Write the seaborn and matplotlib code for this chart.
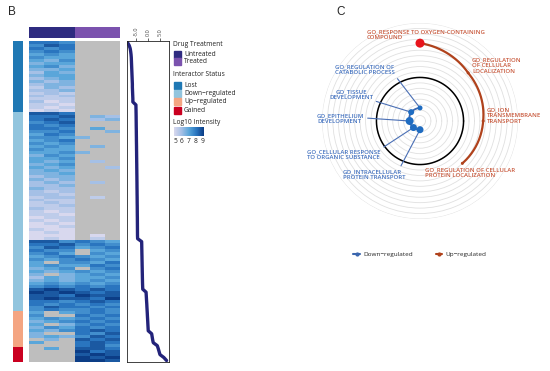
import numpy as np
import pandas as pd
import seaborn as sns
import matplotlib.pyplot as plt
from matplotlib.colors import LinearSegmentedColormap, ListedColormap
from matplotlib.patches import Rectangle
from matplotlib.lines import Line2D

sns.set_style('white')
plt.rcParams['font.family'] = ['Open Sans', 'DejaVu Sans']

# ---- panel B data ----
# heatmap rows, 6 samples (3 untreated, 3 treated); '.' = not detected,
# digit d -> log10 intensity 5 + (d-1)/2
hm_rows = [
    # lost
    '776...', '687...', '767...', '676...', '565...', '655...', '546...', '455...',
    '564...', '445...', '354...', '455...', '345...', '434...', '344...', '243...',
    '334...', '232...', '323...', '222...', '312...', '221...', '212...', '121...',
    # down-regulated
    '887...', '778.43', '787.34', '678...', '767...', '776.5.',
    '667..4', '576...', '6654..', '567...', '656...', '565.4.', '655...', '5564..',
    '465...', '556...', '545.3.', '456...', '545..3', '454...',
    '445...', '344...', '434...', '343.3.', '334...', '433...', '323...', '332...',
    '233.2.', '322...', '232...', '223...', '322...', '212...', '221...', '122...',
    '212...', '121...', '112...', '211...', '121...', '111.1.', '121.2.',
    '886765', '778676', '687567', '766.56', '675.65', '567656', '656765', '5.6657',
    '565576', '456.67', '545656', '4.4565', '354556', '454565', '565656', '676767',
    '898787', '989878', '887988', '898879', '776787', '767676', '687767', '676676',
    # up-regulated
    '5.5676', '6..767', '565676', '456767', '5.4676', '465767', '546787', '4..768',
    '454687', '.4.878', '5..787', '...786',
    # gained
    '.5.887', '...978', '...898', '...989', '...998',
]
status_names = ['Lost', 'Down\u2212regulated', 'Up\u2212regulated', 'Gained']
status_counts = [24, 67, 12, 5]
treat_names = ['Untreated', 'Treated']
treat_cols = [0, 0, 0, 1, 1, 1]

# log fold change per row, same order as heatmap
lfc = [-8.4, -7.7, -7.3, -7.1, -6.95, -6.85, -6.8, -6.75, -6.7, -6.65, -6.6,
       -6.55, -6.5, -6.45, -6.4, -6.4, -6.35, -6.3, -6.25, -6.2, -6.2,
       -4.95, -4.93, -4.9, -4.88, -4.86, -4.85, -4.83, -4.82, -4.8, -4.78,
       -4.77, -4.75, -4.74, -4.72, -4.7, -4.69, -4.67, -4.66, -4.64, -4.63,
       -4.61, -4.6, -4.58, -4.57, -4.55, -4.54, -4.52, -4.51, -4.5, -4.48,
       -4.47, -4.45, -4.44, -4.43, -4.41, -4.4, -4.39, -4.38, -4.36, -4.35,
       -4.34, -4.33, -4.32, -4.31, -4.3, -4.25,
       -2.6, -2.57, -2.55, -2.52, -2.5, -2.47, -2.45, -2.42, -2.4, -2.37,
       -2.35, -2.32, -2.3, -2.27, -2.24, -2.2, -2.15,
       -0.8, -0.72, -0.65, -0.58, -0.5, -0.44, -0.37, -0.3, -0.24, -0.17,
       -0.1, -0.04, 0.03, 0.1,
       1.5, 1.7, 1.9, 2.15,
       3.8, 4.2, 4.55, 4.9,
       6.5, 7.6]

# ---- panel C data ----
down_terms = ['GO_REGULATION OF\nCATABOLIC PROCESS', 'GO_TISSUE\nDEVELOPMENT',
              'GO_EPITHELIUM\nDEVELOPMENT', 'GO_CELLULAR RESPONSE\nTO ORGANIC SUBSTANCE',
              'GO_INTRACELLULAR\nPROTEIN TRANSPORT']
down_score = [-2.8, -2.85, -3.05, -3.15, -3.2]
down_size = [5, 6, 8, 7, 7]
up_terms = ['GO_RESPONSE TO OXYGEN-CONTAINING\nCOMPOUND', 'GO_REGULATION\nOF CELLULAR\nLOCALIZATION',
            'GO_ION\nTRANSMEMBRANE\nTRANSPORT', 'GO_REGULATION OF CELLULAR\nPROTEIN LOCALIZATION']
up_score = [3.15, 2.25, 1.8, 1.5]
up_size = [9, 3, 3, 3]

W, H = 550, 371
fig = plt.figure(figsize=(W / 100, H / 100), dpi=100)


def rect(x0, y0, x1, y1):
    return [x0 / W, 1 - y1 / H, (x1 - x0) / W, (y1 - y0) / H]


def fxy(x, y):
    return (x / W, 1 - y / H)


# heatmap
vals = np.array([[np.nan if c == '.' else 5 + (int(c) - 1) * 0.5 for c in r] for r in hm_rows])
n_rows = len(vals)
blues = LinearSegmentedColormap.from_list('int', ['#d8d8ee', '#a5c0e6', '#5aa6da', '#2a76c0', '#0c3d86'])
ax_hm = fig.add_axes(rect(29, 41, 120, 362))
ax_hm.set_facecolor('#bebebe')
sns.heatmap(pd.DataFrame(vals), ax=ax_hm, cmap=blues, vmin=5, vmax=9, cbar=False,
            xticklabels=False, yticklabels=False)

# row annotation
status_cols = ['#1f78b4', '#92c5de', '#f4a582', '#ca0020']
codes = np.repeat(np.arange(len(status_counts)), status_counts).reshape(-1, 1)
ax_row = fig.add_axes(rect(13, 41, 23, 362))
sns.heatmap(codes, ax=ax_row, cmap=ListedColormap(status_cols), vmin=-0.5, vmax=3.5,
            cbar=False, xticklabels=False, yticklabels=False)

# column annotation
treat_colors = ['#2e2b80', '#7b52ae']
ax_top = fig.add_axes(rect(29, 27, 120, 38))
sns.heatmap([treat_cols], ax=ax_top, cmap=ListedColormap(treat_colors), vmin=-0.5, vmax=1.5,
            cbar=False, xticklabels=False, yticklabels=False)

# fold change line
ax_ln = fig.add_axes(rect(127, 41, 169, 362))
ypos = (np.arange(len(lfc)) + 0.5) / len(lfc) * n_rows
sns.lineplot(x=lfc, y=ypos, ax=ax_ln, estimator=None, sort=False, color='#23237a', lw=2.4)
ax_ln.set_xlim(-8.6, 8.6)
ax_ln.set_ylim(n_rows, 0)
ax_ln.set_yticks([])
ax_ln.xaxis.tick_top()
ax_ln.set_xticks([-5, 0, 5])
ax_ln.set_xticklabels(['-5.0', '0.0', '5.0'], rotation=90, fontsize=4, color='#444444')
ax_ln.tick_params(axis='x', length=2.5, width=0.5, pad=1, top=True, bottom=False)
for s in ax_ln.spines.values():
    s.set_visible(True)
    s.set_linewidth(0.6)
    s.set_color('#222222')

# legends of panel B
ax_lg = fig.add_axes(rect(170, 35, 250, 150))
fs = 4.8
ax_lg.text(173, 44.5, 'Drug Treatment', fontsize=fs, va='center', color='#222222')
for i, (nm, c) in enumerate(zip(treat_names, treat_colors)):
    y0 = 51 + i * 7
    ax_lg.add_patch(Rectangle((174, y0), 7, 7, color=c))
    ax_lg.text(184, y0 + 3.5, nm, fontsize=fs, va='center', color='#222222')
ax_lg.text(173, 74.5, 'Interactor Status', fontsize=fs, va='center', color='#222222')
for i, (nm, c) in enumerate(zip(status_names, status_cols)):
    y0 = 82 + i * 8.2
    ax_lg.add_patch(Rectangle((174, y0), 7, 7, color=c))
    ax_lg.text(184, y0 + 3.5, nm, fontsize=fs, va='center', color='#222222')
ax_lg.text(173, 122.5, 'Log10 Intensity', fontsize=fs, va='center', color='#222222')
ax_lg.imshow(np.linspace(5, 9, 60).reshape(1, -1), cmap=blues, aspect='auto',
             extent=(174, 204, 136, 127))
for i, v in enumerate([5, 6, 7, 8, 9]):
    ax_lg.text(175 + i * 7, 141.5, str(v), fontsize=fs, ha='center', va='center', color='#222222')
ax_lg.set_xlim(170, 250)
ax_lg.set_ylim(150, 35)
ax_lg.axis('off')

# ---- panel C: radial plot ----
pax = fig.add_axes(rect(322, 23, 518, 219), projection='polar')
pax.set_ylim(-4, 5)
pax.set_xticks([])
pax.set_yticks(np.arange(-3.5, 5.01, 0.5))
pax.set_yticklabels([])
pax.yaxis.grid(True, color='#e0e0e0', lw=0.6)
pax.xaxis.grid(False)
pax.spines['polar'].set_visible(False)
pax.plot(np.linspace(0, 2 * np.pi, 200), np.zeros(200), color='black', lw=1.1)

down_theta = np.deg2rad(90 + 45 * np.arange(len(down_score)))
up_theta = np.deg2rad(90 - 45 * np.arange(len(up_score)))
blue_line, blue_dot = '#3b66ae', '#1f6cc1'
red_line, red_text, blue_text = '#b0421c', '#c8573a', '#3f6fbf'
n0 = len(pax.lines)
sns.lineplot(x=down_theta, y=down_score, ax=pax, estimator=None, sort=False, color=blue_line, lw=1.3)
sns.lineplot(x=up_theta, y=up_score, ax=pax, estimator=None, sort=False, color=red_line, lw=1.6)
# draw the connections as spiral arcs in polar space
for ln in pax.lines[n0:]:
    ln.get_path()._interpolation_steps = 60
    ln.recache(always=True)
pax.scatter(down_theta, down_score, s=(np.array(down_size) * 0.72) ** 2, color=blue_dot, zorder=5, lw=0)
up_cols = ['#e8141c', red_line, red_line, red_line]
pax.scatter(up_theta, up_score, s=(np.array(up_size) * 0.72) ** 2, color=up_cols, zorder=5, lw=0)
pax.set_xlabel('')
pax.set_ylabel('')
pax.set_ylim(-4, 5)

lab_fs = 4.3
# down-regulated labels with leader lines: (text x, text y, ha, relpos)
down_pos = [(365, 70, 'center', (1, 0)), (351, 95, 'center', (1, 0)),
            (317, 119, 'left', (1, 0.6)), (307, 154.5, 'left', (1, 1)),
            (343, 174.5, 'left', (0.9, 1))]
for t, th, r, (x, y, ha, rp) in zip(down_terms, down_theta, down_score, down_pos):
    pax.annotate(t, xy=(th, r), xytext=fxy(x, y), textcoords='figure fraction',
                 ha=ha, va='center', multialignment='center' if ha == 'center' else 'left',
                 fontsize=lab_fs, color=blue_text, linespacing=1.2, fontweight='semibold',
                 arrowprops=dict(arrowstyle='-', color='#4a6fb5', lw=0.8,
                                 shrinkA=0, shrinkB=0, relpos=rp))
up_pos = [(367, 29), (472, 57), (487, 107), (425, 167)]
for t, (x, y) in zip(up_terms, up_pos):
    fig.text(*fxy(x, y), t, fontsize=lab_fs, color=red_text, ha='left', va='top',
             linespacing=1.2, fontweight='semibold')

handles = [Line2D([], [], color=blue_line, marker='o', ms=2, lw=1.5),
           Line2D([], [], color=red_line, marker='o', ms=2, lw=1.5)]
fig.legend(handles, ['Down\u2212regulated', 'Up\u2212regulated'], loc='center',
           bbox_to_anchor=fxy(420, 254), ncol=2, frameon=False, fontsize=4.6,
           handlelength=1.0, handletextpad=0.6, columnspacing=3.5)

fig.text(*fxy(8, 6), 'B', fontsize=8.5, va='top', family='Liberation Sans')
fig.text(*fxy(336, 6), 'C', fontsize=8.5, va='top', family='Liberation Sans')

fig.savefig('out.png', dpi=100)
